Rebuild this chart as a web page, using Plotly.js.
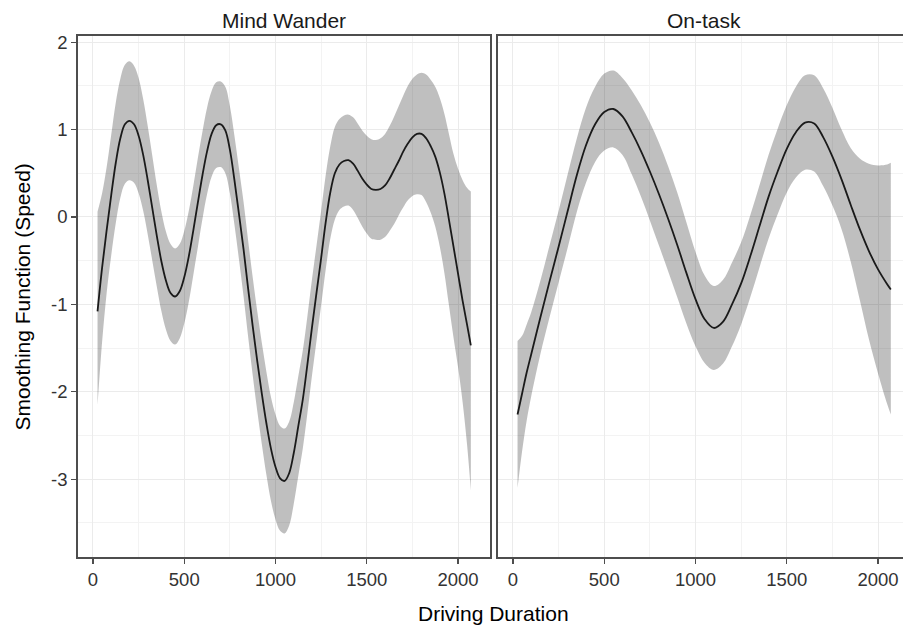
<!DOCTYPE html>
<html><head><meta charset="utf-8">
<script src="https://cdn.plot.ly/plotly-3.0.1.min.js"></script>
<style>html,body{margin:0;padding:0;background:#fff}#chart{width:903px;height:629px}</style>
</head><body><div id="chart"></div>
<script>
// Panel titles
const panelTitles = ["Mind Wander", "On-task"];
const xAxisTitle = "Driving Duration";
const yAxisTitle = "Smoothing Function (Speed)";

// Mind Wander panel
const mwX = [25,50,75,100,125,150,175,200,225,250,275,300,325,350,375,400,425,450,475,500,525,550,575,600,625,650,675,700,725,750,775,800,825,850,875,900,925,950,975,1000,1025,1050,1075,1100,1125,1150,1175,1200,1225,1250,1275,1300,1325,1350,1375,1400,1425,1450,1475,1500,1525,1550,1575,1600,1625,1650,1675,1700,1725,1750,1775,1800,1825,1850,1875,1900,1925,1950,1975,2000,2025,2050,2070];
const mwFit = [-1.08,-0.58,-0.15,0.25,0.62,0.90,1.06,1.10,1.06,0.93,0.71,0.42,0.10,-0.22,-0.51,-0.73,-0.87,-0.91,-0.85,-0.69,-0.45,-0.15,0.17,0.48,0.75,0.95,1.05,1.06,0.99,0.77,0.42,0.03,-0.37,-0.82,-1.25,-1.65,-2.02,-2.36,-2.65,-2.86,-2.99,-3.02,-2.93,-2.70,-2.39,-2.08,-1.68,-1.26,-0.86,-0.47,-0.06,0.28,0.50,0.60,0.64,0.65,0.61,0.53,0.44,0.37,0.32,0.31,0.32,0.36,0.44,0.54,0.64,0.75,0.84,0.91,0.95,0.95,0.90,0.81,0.69,0.51,0.27,-0.03,-0.34,-0.65,-0.96,-1.24,-1.47];
const mwUpper = [0.06,0.27,0.57,0.94,1.31,1.58,1.74,1.78,1.73,1.59,1.35,1.04,0.70,0.36,0.06,-0.17,-0.31,-0.36,-0.31,-0.16,0.07,0.36,0.68,0.98,1.25,1.44,1.54,1.55,1.49,1.27,0.93,0.55,0.17,-0.27,-0.69,-1.08,-1.44,-1.77,-2.06,-2.26,-2.39,-2.42,-2.34,-2.12,-1.82,-1.52,-1.13,-0.71,-0.32,0.07,0.48,0.81,1.03,1.12,1.16,1.17,1.14,1.07,0.99,0.93,0.89,0.88,0.90,0.95,1.04,1.15,1.27,1.39,1.50,1.58,1.63,1.65,1.63,1.57,1.49,1.36,1.18,0.95,0.72,0.55,0.42,0.33,0.29];
const mwLower = [-2.15,-1.43,-0.87,-0.44,-0.07,0.22,0.38,0.42,0.39,0.27,0.07,-0.20,-0.50,-0.80,-1.08,-1.29,-1.42,-1.46,-1.39,-1.22,-0.97,-0.66,-0.34,-0.02,0.26,0.46,0.56,0.57,0.50,0.27,-0.09,-0.49,-0.91,-1.37,-1.81,-2.22,-2.60,-2.95,-3.25,-3.46,-3.59,-3.62,-3.53,-3.28,-2.96,-2.64,-2.24,-1.81,-1.41,-1.01,-0.60,-0.25,-0.03,0.08,0.12,0.13,0.08,-0.01,-0.11,-0.19,-0.25,-0.26,-0.26,-0.23,-0.16,-0.08,0.02,0.11,0.19,0.24,0.26,0.25,0.17,0.05,-0.11,-0.34,-0.64,-1.01,-1.38,-1.72,-2.12,-2.62,-3.13];

// On-task panel
const otX = [25,50,75,100,150,200,250,300,350,400,450,500,550,600,650,700,750,800,850,900,950,1000,1050,1100,1150,1200,1250,1300,1350,1400,1450,1500,1550,1600,1650,1700,1750,1800,1850,1900,1950,2000,2050,2070];
const otFit = [-2.26,-2.02,-1.78,-1.57,-1.15,-0.74,-0.34,0.07,0.48,0.82,1.06,1.20,1.235,1.15,0.97,0.76,0.52,0.26,-0.02,-0.32,-0.64,-0.94,-1.17,-1.27,-1.20,-1.00,-0.76,-0.45,-0.11,0.23,0.52,0.78,0.97,1.08,1.07,0.91,0.69,0.43,0.14,-0.14,-0.39,-0.60,-0.77,-0.83];
const otUpper = [-1.42,-1.36,-1.23,-1.09,-0.73,-0.33,0.07,0.49,0.90,1.25,1.49,1.64,1.675,1.59,1.45,1.28,1.08,0.85,0.58,0.28,-0.06,-0.40,-0.67,-0.79,-0.72,-0.52,-0.29,0.02,0.36,0.71,1.01,1.28,1.49,1.62,1.62,1.47,1.25,1.00,0.79,0.67,0.61,0.59,0.60,0.62];
const otLower = [-3.10,-2.68,-2.33,-2.05,-1.57,-1.15,-0.75,-0.35,0.06,0.39,0.63,0.76,0.795,0.71,0.49,0.24,-0.04,-0.33,-0.62,-0.92,-1.22,-1.48,-1.67,-1.75,-1.68,-1.48,-1.23,-0.92,-0.58,-0.25,0.03,0.28,0.45,0.54,0.52,0.35,0.13,-0.14,-0.51,-0.95,-1.40,-1.79,-2.14,-2.26];

// Tick labels
const xTicks = [0,500,1000,1500,2000];
const xTickText = ["0","500","1000","1500","2000"];
const xMinor = [250,750,1250,1750];
const yTicks = [-3,-2,-1,0,1,2];
const yTickText = ["-3","-2","-1","0","1","2"];
const yMinor = [-3.5,-2.5,-1.5,-0.5,0.5,1.5];

const FONT = 'Liberation Sans, Arial, Helvetica, sans-serif';
const BAND = 'rgba(0,0,0,0.25)';
const LINE = '#1a1a1a';

function panel(x, fit, up, lo, xa, ya) {
  return [
    {x:x, y:lo, xaxis:xa, yaxis:ya, type:'scatter', mode:'lines', line:{width:0, shape:'spline', smoothing:1}, hoverinfo:'skip', showlegend:false},
    {x:x, y:up, xaxis:xa, yaxis:ya, type:'scatter', mode:'lines', fill:'tonexty', fillcolor:BAND, line:{width:0, shape:'spline', smoothing:1}, hoverinfo:'skip', showlegend:false},
    {x:x, y:fit, xaxis:xa, yaxis:ya, type:'scatter', mode:'lines', line:{color:LINE, width:1.8, shape:'spline', smoothing:1}, showlegend:false}
  ];
}

const data = [].concat(
  panel(mwX, mwFit, mwUpper, mwLower, 'x', 'y'),
  panel(otX, otFit, otUpper, otLower, 'x2', 'y2')
);

const common = {
  showline:true, linecolor:'#4d4d4d', linewidth:1.8,
  showgrid:true, gridcolor:'#ebebeb', gridwidth:1,
  zeroline:false, ticks:'outside', ticklen:5, tickwidth:1.2, tickcolor:'#4d4d4d',
  tickfont:{family:FONT, size:18.5, color:'#333333'}, fixedrange:true
};
const xMinorCfg = {tickmode:'array', tickvals:xMinor, showgrid:true, gridcolor:'#f3f3f3', gridwidth:1, ticks:''};
const yMinorCfg = {tickmode:'array', tickvals:yMinor, showgrid:true, gridcolor:'#f3f3f3', gridwidth:1, ticks:''};

const layout = {
  width:903, height:629,
  margin:{l:78, r:0, t:36, b:72, pad:0},
  paper_bgcolor:'#ffffff', plot_bgcolor:'#ffffff',
  showlegend:false,
  font:{family:FONT, color:'#000'},
  xaxis: Object.assign({}, common, {domain:[0,0.4994], range:[-82,2175], tickmode:'array', tickvals:xTicks, ticktext:xTickText, mirror:true, anchor:'y', minor:xMinorCfg}),
  xaxis2: Object.assign({}, common, {domain:[0.5091,1], range:[-82,2136.7], tickmode:'array', tickvals:xTicks, ticktext:xTickText, mirror:true, anchor:'y2', minor:xMinorCfg}),
  yaxis: Object.assign({}, common, {domain:[0,1], range:[-3.89,2.07], tickmode:'array', tickvals:yTicks, ticktext:yTickText, mirror:true, anchor:'x', minor:yMinorCfg}),
  yaxis2: Object.assign({}, common, {domain:[0,1], range:[-3.89,2.07], tickmode:'array', tickvals:yTicks, showticklabels:false, ticks:'', mirror:false, anchor:'x2', minor:yMinorCfg}),
  annotations:[
    {text:panelTitles[0], xref:'paper', yref:'paper', x:0.2497, y:1.0292, xanchor:'center', yanchor:'middle', showarrow:false, font:{family:FONT, size:21, color:'#1a1a1a'}},
    {text:panelTitles[1], xref:'paper', yref:'paper', x:0.7588, y:1.0292, xanchor:'center', yanchor:'middle', showarrow:false, font:{family:FONT, size:21, color:'#1a1a1a'}},
    {text:xAxisTitle, xref:'paper', yref:'paper', x:0.5042, y:-0.1084, xanchor:'center', yanchor:'middle', showarrow:false, font:{family:FONT, size:21, color:'#000'}},
    {text:yAxisTitle, xref:'paper', yref:'paper', x:-0.0667, y:0.5, xanchor:'center', yanchor:'middle', textangle:-90, showarrow:false, font:{family:FONT, size:21, color:'#000'}}
  ]
};

Plotly.newPlot('chart', data, layout, {staticPlot:true, displayModeBar:false});
</script>
</body></html>
